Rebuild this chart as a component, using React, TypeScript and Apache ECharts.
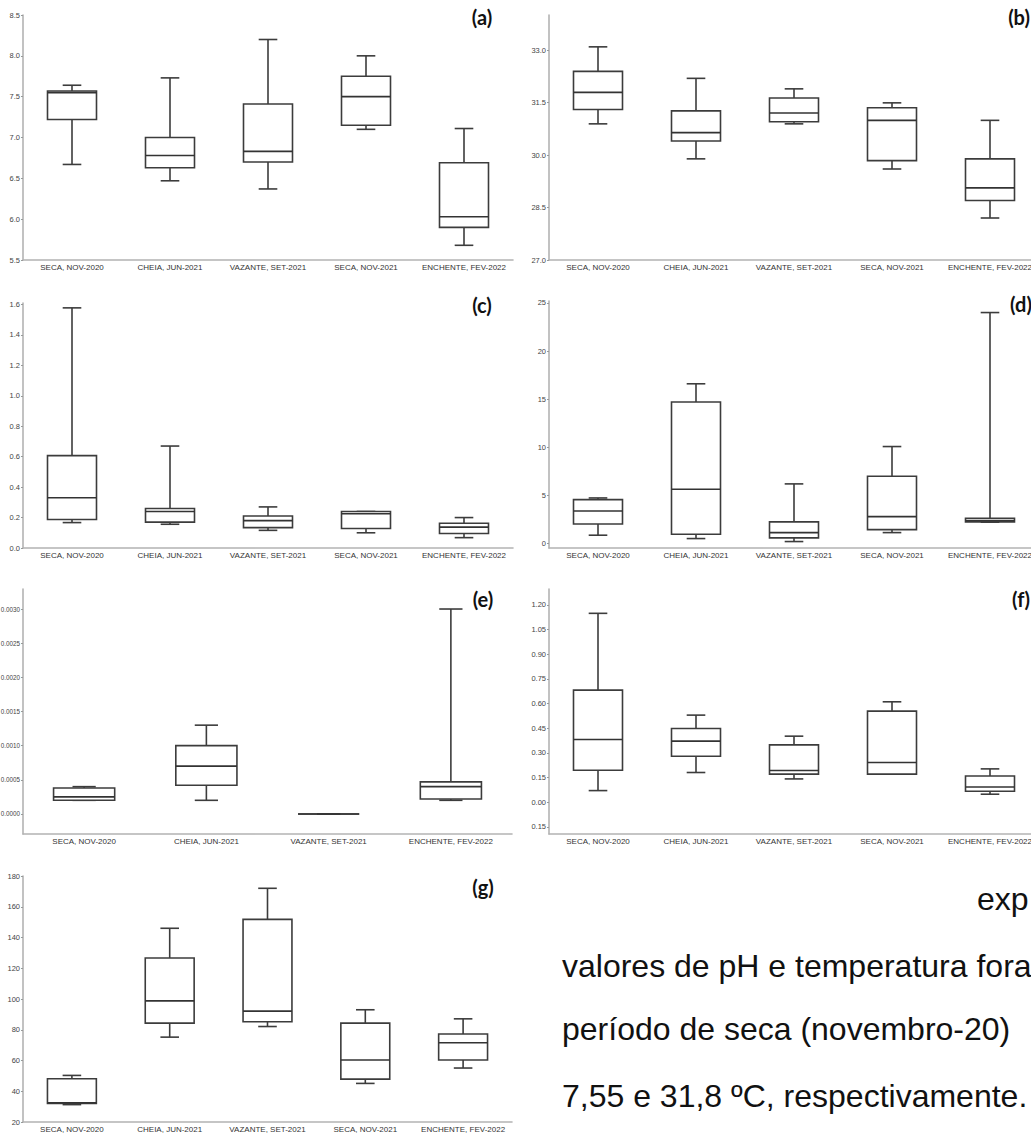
import React, { useEffect, useRef } from "react";
import * as echarts from "echarts";

// ---------- data ----------
const CATS_5 = ["SECA, NOV-2020", "CHEIA, JUN-2021", "VAZANTE, SET-2021", "SECA, NOV-2021", "ENCHENTE, FEV-2022"];
const CATS_4 = ["SECA, NOV-2020", "CHEIA, JUN-2021", "VAZANTE, SET-2021", "ENCHENTE, FEV-2022"];

// each row: [min, Q1, median, Q3, max]
const PH_A = [
  [6.67, 7.22, 7.55, 7.57, 7.64],
  [6.47, 6.63, 6.78, 7.0, 7.73],
  [6.37, 6.7, 6.83, 7.41, 8.2],
  [7.1, 7.15, 7.5, 7.75, 8.0],
  [5.68, 5.9, 6.03, 6.69, 7.11],
];
const TEMP_B = [
  [30.89, 31.3, 31.79, 32.39, 33.09],
  [29.89, 30.4, 30.64, 31.26, 32.19],
  [30.89, 30.95, 31.2, 31.63, 31.89],
  [29.6, 29.84, 30.99, 31.35, 31.49],
  [28.2, 28.7, 29.06, 29.89, 30.99],
];
const VAL_C = [
  [0.167, 0.187, 0.33, 0.607, 1.578],
  [0.156, 0.17, 0.24, 0.26, 0.67],
  [0.116, 0.134, 0.18, 0.21, 0.27],
  [0.1, 0.128, 0.225, 0.24, 0.24],
  [0.068, 0.095, 0.137, 0.163, 0.2],
];
const VAL_D = [
  [0.87, 2.04, 3.39, 4.57, 4.74],
  [0.52, 0.97, 5.64, 14.7, 16.6],
  [0.21, 0.59, 1.14, 2.25, 6.2],
  [1.14, 1.45, 2.8, 6.99, 10.08],
  [2.22, 2.25, 2.4, 2.63, 24.0],
];
const VAL_E = [
  [0.0002, 0.0002, 0.00025, 0.00038, 0.0004],
  [0.0002, 0.00042, 0.0007, 0.001, 0.0013],
  [0, 0, 0, 0, 0],
  [0.0002, 0.00022, 0.0004, 0.00047, 0.003],
];
const VAL_F = [
  [0.071, 0.195, 0.382, 0.682, 1.149],
  [0.181, 0.28, 0.372, 0.449, 0.53],
  [0.142, 0.171, 0.193, 0.349, 0.402],
  [0.171, 0.171, 0.242, 0.554, 0.611],
  [0.049, 0.067, 0.093, 0.16, 0.203],
];
const VAL_G = [
  [31.3, 32.1, 32.5, 48.1, 50.3],
  [75.2, 84.3, 98.8, 126.7, 146],
  [82.1, 85.2, 92.1, 151.8, 172],
  [45.1, 47.9, 60.3, 84.3, 93],
  [55.1, 60.3, 71.5, 77.2, 87.1],
];

const TICKS_A = [5.5, 6.0, 6.5, 7.0, 7.5, 8.0, 8.5];
const TICKS_B = [27.0, 28.5, 30.0, 31.5, 33.0];
const TICKS_C = [0, 0.2, 0.4, 0.6, 0.8, 1.0, 1.2, 1.4, 1.6];
const TICKS_D = [0, 5, 10, 15, 20, 25];
const TICKS_E = [0, 0.0005, 0.001, 0.0015, 0.002, 0.0025, 0.003];
const TICKS_F = [-0.15, 0, 0.15, 0.3, 0.45, 0.6, 0.75, 0.9, 1.05, 1.2];
const TICKS_G = [20, 40, 60, 80, 100, 120, 140, 160, 180];

const TEXT_LINES = [
  "exp",
  "valores de pH e temperatura fora",
  "período de seca (novembro-20)",
  "7,55 e 31,8 ºC, respectivamente.",
];

// ---------- layout ----------
const PANELS = [
  { tag: "(a)", cats: CATS_5, data: PH_A, ticks: TICKS_A, min: 5.5, max: 8.5, fmt: (v: number) => v.toFixed(1), lblSize: 7.5,
    grid: { left: 23, top: 15, width: 490, height: 245 }, tagPos: [482, 17] },
  { tag: "(b)", cats: CATS_5, data: TEMP_B, ticks: TICKS_B, min: 27, max: 34, fmt: (v: number) => v.toFixed(1), lblSize: 7.5,
    grid: { left: 549, top: 15, width: 490, height: 245 }, tagPos: [1019, 17] },
  { tag: "(c)", cats: CATS_5, data: VAL_C, ticks: TICKS_C, min: 0, max: 1.61, fmt: (v: number) => v.toFixed(1), lblSize: 7.5,
    grid: { left: 23, top: 303, width: 490, height: 245 }, tagPos: [482, 305] },
  { tag: "(d)", cats: CATS_5, data: VAL_D, ticks: TICKS_D, min: -0.46, max: 25.2, fmt: (v: number) => v.toFixed(0), lblSize: 7.5,
    grid: { left: 549, top: 301, width: 490, height: 247 }, tagPos: [1021, 304] },
  { tag: "(e)", cats: CATS_4, data: VAL_E, ticks: TICKS_E, min: -0.000293, max: 0.003293, fmt: (v: number) => v.toFixed(4), lblSize: 6.3,
    grid: { left: 23, top: 589, width: 489, height: 245 }, tagPos: [483, 599] },
  { tag: "(f)", cats: CATS_5, data: VAL_F, ticks: TICKS_F, min: -0.193, max: 1.297, fmt: (v: number) => Math.abs(v).toFixed(2), lblSize: 7.5,
    grid: { left: 549, top: 589, width: 490, height: 245 }, tagPos: [1021, 599] },
  { tag: "(g)", cats: CATS_5, data: VAL_G, ticks: TICKS_G, min: 20, max: 180, fmt: (v: number) => v.toFixed(0), lblSize: 7.5,
    grid: { left: 23, top: 876, width: 489, height: 246 }, tagPos: [483, 887] },
];

const TEXT_POS = [
  [977, 899],
  [562, 966],
  [562, 1029],
  [562, 1096],
];

const BOX_STROKE = "#3c3c3c";
const AXIS_COLOR = "#b3b3b3";
const FONT = "Liberation Sans, Arial, sans-serif";

function renderBox(params: any, api: any) {
  const idx = api.value(0);
  const lo = api.coord([idx, api.value(1)]);
  const q1 = api.coord([idx, api.value(2)]);
  const md = api.coord([idx, api.value(3)]);
  const q3 = api.coord([idx, api.value(4)]);
  const hi = api.coord([idx, api.value(5)]);
  const band = api.size([1, 0])[0];
  const bw = band * 0.5;
  const cw = band * 0.19;
  const x = lo[0];
  const st = { stroke: BOX_STROKE, lineWidth: 1.6, fill: null };
  return {
    type: "group",
    children: [
      { type: "line", shape: { x1: x, y1: hi[1], x2: x, y2: q3[1] }, style: st },
      { type: "line", shape: { x1: x, y1: q1[1], x2: x, y2: lo[1] }, style: st },
      { type: "line", shape: { x1: x - cw / 2, y1: hi[1], x2: x + cw / 2, y2: hi[1] }, style: st },
      { type: "line", shape: { x1: x - cw / 2, y1: lo[1], x2: x + cw / 2, y2: lo[1] }, style: st },
      { type: "rect", shape: { x: x - bw / 2, y: q3[1], width: bw, height: q1[1] - q3[1] },
        style: { stroke: BOX_STROKE, lineWidth: 1.6, fill: "#ffffff" } },
      { type: "line", shape: { x1: x - bw / 2, y1: md[1], x2: x + bw / 2, y2: md[1] },
        style: { stroke: "#333333", lineWidth: 1.6 } },
    ],
  };
}

export default function App() {
  const ref = useRef<HTMLDivElement>(null);
  useEffect(() => {
    if (!ref.current) return;
    const chart = echarts.init(ref.current, null, { renderer: "svg" });
    const grids: any[] = [];
    const xAxes: any[] = [];
    const yAxes: any[] = [];
    const series: any[] = [];
    const graphics: any[] = [];
    PANELS.forEach((p, i) => {
      grids.push({ ...p.grid, containLabel: false, outerBoundsMode: "none" });
      xAxes.push({
        type: "category",
        gridIndex: i,
        data: p.cats,
        axisLine: { show: true, onZero: false, lineStyle: { color: AXIS_COLOR, width: 1.6 } },
        axisTick: { show: false },
        axisLabel: { interval: 0, fontSize: 8, color: "#333333", fontFamily: FONT, margin: 3 },
        splitLine: { show: false },
      });
      yAxes.push({
        type: "value",
        gridIndex: i,
        min: p.min,
        max: p.max,
        axisLine: { show: true, onZero: false, lineStyle: { color: AXIS_COLOR, width: 1.6 } },
        axisTick: { show: true, length: 2, lineStyle: { color: "#999999" }, customValues: p.ticks },
        axisLabel: { fontSize: p.lblSize, color: "#444444", fontFamily: FONT, margin: 3, customValues: p.ticks,
          formatter: (v: number) => p.fmt(v) },
        splitLine: { show: false },
      });
      series.push({
        type: "custom",
        xAxisIndex: i,
        yAxisIndex: i,
        clip: false,
        renderItem: renderBox,
        encode: { x: 0, y: [1, 2, 3, 4, 5] },
        data: p.data.map((r, k) => [k, ...r]),
      });
      graphics.push({
        type: "text",
        x: p.tagPos[0],
        y: p.tagPos[1],
        z: 100,
        style: { text: p.tag, fontSize: 20, fontWeight: "bold", fontFamily: "Lato, Liberation Sans, sans-serif",
          fill: "#111111", align: "center", verticalAlign: "middle" },
      });
    });
    TEXT_LINES.forEach((t, i) => {
      graphics.push({
        type: "text",
        x: TEXT_POS[i][0],
        y: TEXT_POS[i][1],
        z: 100,
        style: { text: t, fontSize: 32, fontFamily: FONT, fill: "#111111", align: "left", verticalAlign: "middle" },
      });
    });
    chart.setOption({
      animation: false,
      backgroundColor: "#ffffff",
      grid: grids,
      xAxis: xAxes,
      yAxis: yAxes,
      series,
      graphic: graphics,
    });
    return () => chart.dispose();
  }, []);
  return (
    <div
      ref={ref}
      style={{ position: "absolute", left: 0, top: 0, width: 1031, height: 1133, background: "#fff", overflow: "hidden" }}
    />
  );
}
